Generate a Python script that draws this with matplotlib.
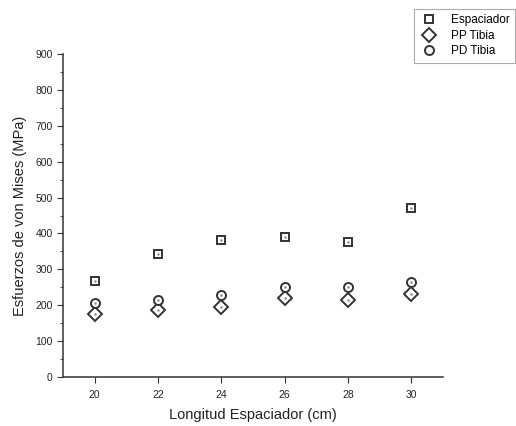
import matplotlib
matplotlib.use('Agg')
import matplotlib.pyplot as plt
from matplotlib.ticker import MultipleLocator

longitud = [20, 22, 24, 26, 28, 30]
espaciador = [268, 343, 382, 391, 377, 471]
pp_tibia = [176, 187, 195, 220, 215, 230]
pd_tibia = [206, 215, 229, 250, 250, 266]

plt.rcParams['font.family'] = ['Liberation Sans', 'DejaVu Sans']
edge = '#333333'

fig = plt.figure(figsize=(5.16, 4.26), dpi=100)
ax = fig.add_axes([63/516, 1 - 377/426, (443-63)/516, (377-54)/426])

series = [(espaciador, 's', 'Espaciador', 6),
          (pp_tibia, 'D', 'PP Tibia', 7),
          (pd_tibia, 'o', 'PD Tibia', 6.5)]
handles = []
for vals, mk, lab, ms in series:
    h, = ax.plot(longitud, vals, linestyle='none', marker=mk, markersize=ms,
                 markerfacecolor='white', markeredgecolor=edge, markeredgewidth=1.4,
                 label=lab)
    ax.plot(longitud, vals, linestyle='none', marker='.', markersize=1.5, color='#888888')
    handles.append(h)

ax.set_xlim(19, 31)
ax.set_ylim(0, 900)
ax.xaxis.set_major_locator(MultipleLocator(2))
ax.yaxis.set_major_locator(MultipleLocator(100))
ax.yaxis.set_minor_locator(MultipleLocator(50))
for s in ['top', 'right']:
    ax.spines[s].set_visible(False)
for s in ['left', 'bottom']:
    ax.spines[s].set_color(edge)
    ax.spines[s].set_linewidth(1.1)
ax.tick_params(which='major', length=4, color=edge, labelsize=7.5, labelcolor='#222222')
ax.tick_params(axis='x', pad=5)
ax.tick_params(which='minor', length=2, color=edge)

ax.set_xlabel('Longitud Espaciador (cm)', fontsize=10.5, color='#222222', labelpad=6)
ax.set_ylabel('Esfuerzos de von Mises (MPa)', fontsize=10.5, color='#222222', labelpad=6)

leg = fig.legend(handles=handles, loc='upper left', bbox_to_anchor=(414/516, 1 - 9/426),
                 borderaxespad=0, fontsize=8.5, frameon=True, fancybox=False, borderpad=0.45,
                 handletextpad=1.1, labelspacing=0.3, handlelength=1.6)
leg.get_frame().set_edgecolor('#999999')
leg.get_frame().set_linewidth(0.8)

fig.savefig('out.png', dpi=100)
